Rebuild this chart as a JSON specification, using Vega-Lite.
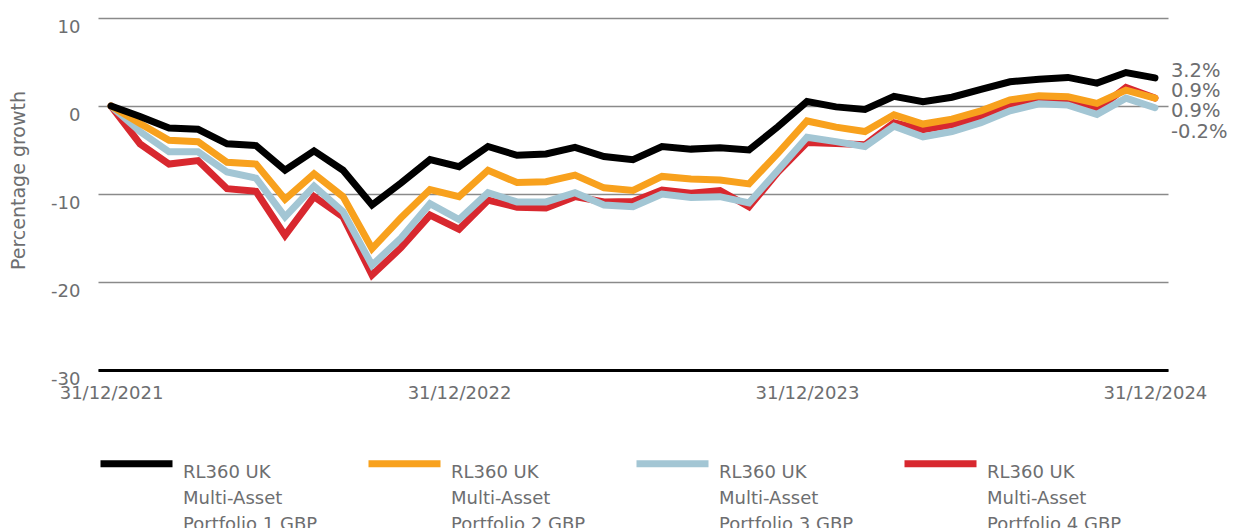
{
  "$schema": "https://vega.github.io/schema/vega-lite/v6.json",
  "width": 1070,
  "height": 352,
  "autosize": {"type": "none"},
  "padding": {"left": 98, "top": 18, "right": 65, "bottom": 158},
  "background": "white",
  "config": {
    "font": "DejaVu Sans",
    "view": {"stroke": null},
    "style": {"guide-label": {"lineHeight": 26}}
  },
  "datasets": {
    "wide": [
      {"date": "31/12/2021", "p1": 0, "p2": 0, "p3": 0, "p4": 0},
      {"date": "31/01/2022", "p1": -1.2, "p2": -2.0, "p3": -2.9, "p4": -4.3},
      {"date": "28/02/2022", "p1": -2.5, "p2": -3.9, "p3": -5.2, "p4": -6.6},
      {"date": "31/03/2022", "p1": -2.65, "p2": -4.05, "p3": -5.2, "p4": -6.2},
      {"date": "30/04/2022", "p1": -4.3, "p2": -6.4, "p3": -7.5, "p4": -9.4},
      {"date": "31/05/2022", "p1": -4.5, "p2": -6.6, "p3": -8.2, "p4": -9.7},
      {"date": "30/06/2022", "p1": -7.3, "p2": -10.6, "p3": -12.6, "p4": -14.7},
      {"date": "31/07/2022", "p1": -5.1, "p2": -7.7, "p3": -9.1, "p4": -10.3},
      {"date": "31/08/2022", "p1": -7.3, "p2": -10.3, "p3": -12.0, "p4": -12.6},
      {"date": "30/09/2022", "p1": -11.25, "p2": -16.2, "p3": -18.1, "p4": -19.2},
      {"date": "31/10/2022", "p1": -8.75, "p2": -12.7, "p3": -15.0, "p4": -16.1},
      {"date": "30/11/2022", "p1": -6.1, "p2": -9.5, "p3": -11.1, "p4": -12.4},
      {"date": "31/12/2022", "p1": -6.9, "p2": -10.3, "p3": -12.9, "p4": -14.0},
      {"date": "31/01/2023", "p1": -4.6, "p2": -7.3, "p3": -9.85, "p4": -10.7},
      {"date": "28/02/2023", "p1": -5.6, "p2": -8.7, "p3": -10.9, "p4": -11.5},
      {"date": "31/03/2023", "p1": -5.45, "p2": -8.6, "p3": -10.9, "p4": -11.6},
      {"date": "30/04/2023", "p1": -4.7, "p2": -7.85, "p3": -9.85, "p4": -10.3},
      {"date": "31/05/2023", "p1": -5.75, "p2": -9.3, "p3": -11.25, "p4": -10.9},
      {"date": "30/06/2023", "p1": -6.1, "p2": -9.6, "p3": -11.45, "p4": -10.85},
      {"date": "31/07/2023", "p1": -4.6, "p2": -8.0, "p3": -10.0, "p4": -9.55},
      {"date": "31/08/2023", "p1": -4.9, "p2": -8.3, "p3": -10.4, "p4": -9.9},
      {"date": "30/09/2023", "p1": -4.75, "p2": -8.4, "p3": -10.3, "p4": -9.6},
      {"date": "31/10/2023", "p1": -5.0, "p2": -8.85, "p3": -11.0, "p4": -11.45},
      {"date": "30/11/2023", "p1": -2.35, "p2": -5.35, "p3": -7.3, "p4": -7.5},
      {"date": "31/12/2023", "p1": 0.5, "p2": -1.7, "p3": -3.55, "p4": -4.15},
      {"date": "31/01/2024", "p1": -0.1, "p2": -2.4, "p3": -4.05, "p4": -4.25},
      {"date": "29/02/2024", "p1": -0.4, "p2": -2.9, "p3": -4.6, "p4": -4.4},
      {"date": "31/03/2024", "p1": 1.1, "p2": -1.0, "p3": -2.3, "p4": -1.9},
      {"date": "30/04/2024", "p1": 0.5, "p2": -2.05, "p3": -3.5, "p4": -2.7},
      {"date": "31/05/2024", "p1": 1.0, "p2": -1.5, "p3": -2.9, "p4": -2.15},
      {"date": "30/06/2024", "p1": 1.9, "p2": -0.55, "p3": -1.9, "p4": -1.2},
      {"date": "31/07/2024", "p1": 2.75, "p2": 0.7, "p3": -0.55, "p4": 0.0},
      {"date": "31/08/2024", "p1": 3.05, "p2": 1.15, "p3": 0.25, "p4": 0.6},
      {"date": "30/09/2024", "p1": 3.25, "p2": 1.05, "p3": 0.1, "p4": 0.6},
      {"date": "31/10/2024", "p1": 2.6, "p2": 0.3, "p3": -0.95, "p4": -0.4},
      {"date": "30/11/2024", "p1": 3.8, "p2": 1.8, "p3": 0.9, "p4": 2.1},
      {"date": "31/12/2024", "p1": 3.2, "p2": 0.9, "p3": -0.2, "p4": 0.9}
    ],
    "names": [
      {"key": "p1", "name": "RL360 UK Multi-Asset Portfolio 1 GBP"},
      {"key": "p2", "name": "RL360 UK Multi-Asset Portfolio 2 GBP"},
      {"key": "p3", "name": "RL360 UK Multi-Asset Portfolio 3 GBP"},
      {"key": "p4", "name": "RL360 UK Multi-Asset Portfolio 4 GBP"}
    ],
    "ends": [
      {"date": "31/12/2024", "key": "p1", "value": 3.2, "label": "3.2%"},
      {"date": "31/12/2024", "key": "p2", "value": 0.9, "label": "0.9%"},
      {"date": "31/12/2024", "key": "p4", "value": 0.9, "label": "0.9%"},
      {"date": "31/12/2024", "key": "p3", "value": -0.2, "label": "-0.2%"}
    ]
  },
  "data": {"name": "wide"},
  "transform": [
    {"fold": ["p1", "p2", "p3", "p4"], "as": ["key", "value"]},
    {"lookup": "key", "from": {"data": {"name": "names"}, "key": "key", "fields": ["name"]}}
  ],
  "encoding": {
    "x": {
      "field": "date",
      "type": "ordinal",
      "sort": null,
      "scale": {"type": "point", "padding": 0.45},
      "axis": {
        "title": null,
        "values": ["31/12/2021", "31/12/2022", "31/12/2023", "31/12/2024"],
        "labelAngle": 0,
        "ticks": false,
        "domain": true,
        "domainColor": "#000000",
        "domainWidth": 3,
        "labelFontSize": 18,
        "labelColor": "#6d6e70",
        "labelPadding": 14,
        "grid": false
      }
    },
    "y": {
      "field": "value",
      "type": "quantitative",
      "scale": {"domain": [-30, 10], "nice": false, "zero": false},
      "axis": {
        "title": "Percentage growth",
        "values": [-30, -20, -10, 0, 10],
        "labelExpr": "datum.value + ''",
        "domain": false,
        "ticks": false,
        "grid": true,
        "gridColor": "#8a8a8a",
        "gridWidth": 1.3,
        "gridOpacity": 1,
        "labelFontSize": 18,
        "labelColor": "#6d6e70",
        "labelPadding": 18,
        "labelBaseline": "top",
        "titleFontSize": 19,
        "titleFontWeight": "normal",
        "titleColor": "#6d6e70",
        "titleX": -80,
        "titleY": 162,
        "titleBaseline": "middle",
        "titleAlign": "center",
        "titleAngle": -90
      }
    }
  },
  "layer": [
    {
      "transform": [{"filter": "datum.key == 'p4'"}],
      "mark": {"type": "line", "strokeWidth": 7, "strokeCap": "round", "strokeJoin": "miter"},
      "encoding": {"color": {"field": "name", "type": "nominal"}}
    },
    {
      "transform": [{"filter": "datum.key == 'p3'"}],
      "mark": {"type": "line", "strokeWidth": 7, "strokeCap": "round", "strokeJoin": "miter"},
      "encoding": {"color": {"field": "name", "type": "nominal"}}
    },
    {
      "transform": [{"filter": "datum.key == 'p2'"}],
      "mark": {"type": "line", "strokeWidth": 7, "strokeCap": "round", "strokeJoin": "miter"},
      "encoding": {"color": {"field": "name", "type": "nominal"}}
    },
    {
      "transform": [{"filter": "datum.key == 'p1'"}],
      "mark": {"type": "line", "strokeWidth": 7, "strokeCap": "round", "strokeJoin": "miter"},
      "encoding": {
        "color": {
          "field": "name",
          "type": "nominal",
          "scale": {
            "domain": ["RL360 UK Multi-Asset Portfolio 1 GBP", "RL360 UK Multi-Asset Portfolio 2 GBP", "RL360 UK Multi-Asset Portfolio 3 GBP", "RL360 UK Multi-Asset Portfolio 4 GBP"],
            "range": ["#000000", "#f8a11d", "#a3c6d4", "#d8282f"]
          },
          "legend": {
            "title": null,
            "orient": "none",
            "legendX": -1,
            "legendY": 406,
            "direction": "horizontal",
            "columns": 4,
            "gridAlign": "all",
            "columnPadding": 36,
            "symbolType": "stroke",
            "symbolSize": 5184,
            "symbolStrokeWidth": 7,
            "labelFontSize": 18,
            "labelColor": "#6d6e70",
            "labelOffset": 7,
            "labelLimit": 300,
            "labelBaseline": "top",
            "labelExpr": "['RL360 UK', 'Multi-Asset', slice(datum.label, 21)]"
          }
        }
      }
    },
    {
      "data": {"name": "ends"},
      "transform": [{"filter": "datum.key == 'p1'"}],
      "mark": {"type": "text", "align": "left", "baseline": "middle", "dx": 16, "dy": -7, "fontSize": 19.5, "color": "#6d6e70"},
      "encoding": {"text": {"field": "label"}}
    },
    {
      "data": {"name": "ends"},
      "transform": [{"filter": "datum.key == 'p2'"}],
      "mark": {"type": "text", "align": "left", "baseline": "middle", "dx": 16, "dy": -7, "fontSize": 19.5, "color": "#6d6e70"},
      "encoding": {"text": {"field": "label"}}
    },
    {
      "data": {"name": "ends"},
      "transform": [{"filter": "datum.key == 'p4'"}],
      "mark": {"type": "text", "align": "left", "baseline": "middle", "dx": 16, "dy": 13, "fontSize": 19.5, "color": "#6d6e70"},
      "encoding": {"text": {"field": "label"}}
    },
    {
      "data": {"name": "ends"},
      "transform": [{"filter": "datum.key == 'p3'"}],
      "mark": {"type": "text", "align": "left", "baseline": "middle", "dx": 16, "dy": 24, "fontSize": 19.5, "color": "#6d6e70"},
      "encoding": {"text": {"field": "label"}}
    }
  ]
}
